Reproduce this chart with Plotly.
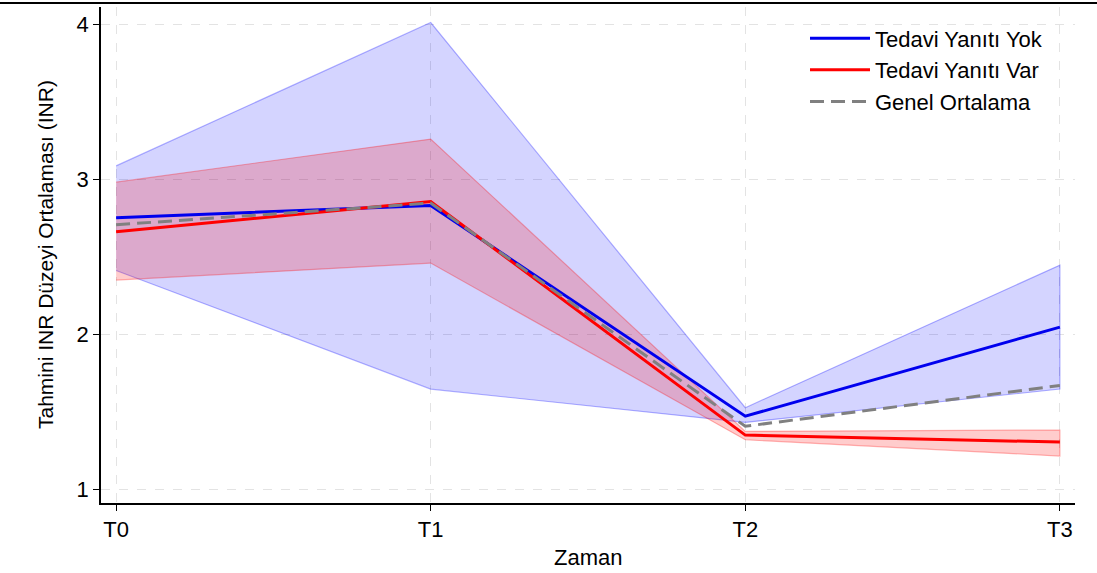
import plotly.graph_objects as go

times = ["T0", "T1", "T2", "T3"]
x_pos = [0, 1, 2, 3]

yok_mean = [2.75, 2.83, 1.47, 2.045]
yok_upper = [3.085, 4.01, 1.525, 2.445]
yok_lower = [2.41, 1.645, 1.43, 1.645]

var_mean = [2.66, 2.855, 1.348, 1.303]
var_upper = [2.98, 3.258, 1.372, 1.381]
var_lower = [2.348, 2.458, 1.318, 1.213]

genel_mean = [2.705, 2.845, 1.405, 1.668]

fig = go.Figure()

def band(upper, lower, fill, line):
    fig.add_trace(go.Scatter(
        x=x_pos + x_pos[::-1], y=upper + lower[::-1],
        fill="toself", fillcolor=fill, mode="lines",
        line=dict(color=line, width=1.2), showlegend=False, hoverinfo="skip"))

band(yok_upper, yok_lower, "rgba(0,0,255,0.17)", "rgba(0,0,255,0.3)")
band(var_upper, var_lower, "rgba(255,0,0,0.2)", "rgba(255,0,0,0.3)")

fig.add_trace(go.Scatter(x=x_pos, y=yok_mean, mode="lines", name="Tedavi Yanıtı Yok",
                         line=dict(color="#0000ee", width=3)))
fig.add_trace(go.Scatter(x=x_pos, y=var_mean, mode="lines", name="Tedavi Yanıtı Var",
                         line=dict(color="#ff0000", width=3)))
fig.add_trace(go.Scatter(x=x_pos, y=genel_mean, mode="lines", name="Genel Ortalama",
                         line=dict(color="#808080", width=3, dash="14px,7px")))

font_family = "Liberation Sans, Arial, Helvetica, sans-serif"
L, R, T, B = 101, 22, 7, 70
PW, PH = 1097 - L - R, 573 - T - B

fig.update_layout(
    width=1097, height=573,
    margin=dict(l=L, r=R, t=T, b=B, autoexpand=False),
    paper_bgcolor="white", plot_bgcolor="white",
    font=dict(family=font_family, size=22, color="black"),
    legend=dict(x=0.7228, y=0.979, xanchor="left", yanchor="top",
                bgcolor="rgba(255,255,255,0)", font=dict(size=22),
                itemwidth=60),
    xaxis=dict(
        range=[-0.048, 3.048], tickvals=x_pos, ticktext=times,
        showline=True, linecolor="black", linewidth=1.5,
        ticks="outside", ticklen=6, tickcolor="black",
        showgrid=True, gridcolor="#e3e3e3", griddash="dash", gridwidth=1,
        zeroline=False, automargin=False,
        tickfont=dict(size=22),
    ),
    yaxis=dict(
        range=[0.91, 4.11], tickvals=[1, 2, 3, 4],
        showline=True, linecolor="black", linewidth=1.5,
        ticks="outside", ticklen=6, tickcolor="black",
        showgrid=True, gridcolor="#e3e3e3", griddash="dash", gridwidth=1,
        zeroline=False, automargin=False,
        tickfont=dict(size=22),
    ),
    annotations=[
        dict(text="Zaman", xref="paper", yref="paper", x=0.5, y=-(557 - 503) / PH,
             xanchor="center", yanchor="middle", showarrow=False, font=dict(size=22)),
        dict(text="Tahmini INR Düzeyi Ortalaması (INR)", xref="paper", yref="paper",
             x=-(L - 45) / PW, y=0.5, textangle=-90,
             xanchor="center", yanchor="middle", showarrow=False, font=dict(size=21)),
    ],
    shapes=[dict(type="line", xref="paper", yref="paper",
                 x0=-L / PW, x1=(1097 - L) / PW, y0=1 + 4 / PH, y1=1 + 4 / PH,
                 line=dict(color="black", width=2))],
)

fig.write_html("out.html", config={"displayModeBar": False},
               post_script="document.body.style.margin='0';")
